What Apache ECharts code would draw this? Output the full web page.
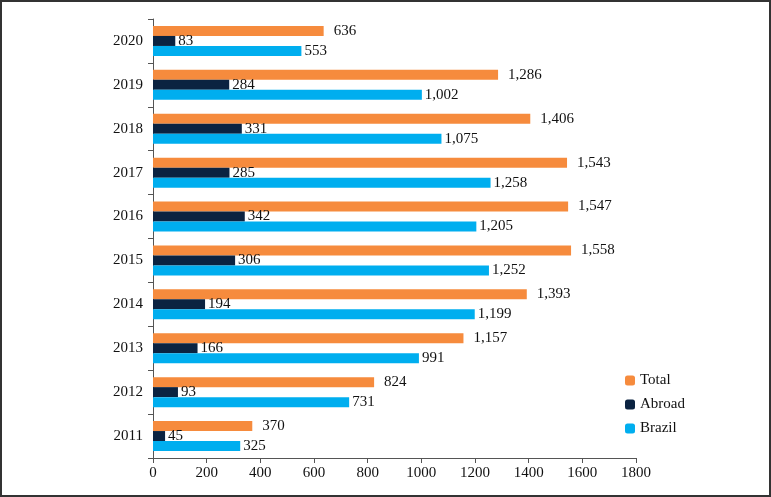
<!DOCTYPE html>
<html>
<head>
<meta charset="utf-8">
<script src="https://cdn.jsdelivr.net/npm/echarts@6/dist/echarts.min.js"></script>
<style>
html,body{margin:0;padding:0;background:#fff;}
#c{width:771px;height:497px;}
</style>
</head>
<body>
<div id="c"></div>
<script>
const years = ['2020','2019','2018','2017','2016','2015','2014','2013','2012','2011'];
const total = [636,1286,1406,1543,1547,1558,1393,1157,824,370];
const abroad = [83,284,331,285,342,306,194,166,93,45];
const brazil = [553,1002,1075,1258,1205,1252,1199,991,731,325];
const xTicks = [0,200,400,600,800,1000,1200,1400,1600,1800];

const font = 'Liberation Serif';
const fmt = p => p.value.toLocaleString('en-US');
const chart = echarts.init(document.getElementById('c'));
function mk(name, data, color, dist){
  return {
    name, type:'bar', data, barWidth:10, barGap:'0%',
    itemStyle:{color},
    label:{show:true, position:'right', distance:dist, formatter:fmt,
      fontFamily:font, fontSize:15, color:'#111'}
  };
}
chart.setOption({
  animation:false,
  textStyle:{fontFamily:font},
  graphic:[{type:'rect', shape:{x:1,y:1,width:769,height:495}, style:{fill:'none', stroke:'#333', lineWidth:2}}],
  grid:{left:153, right:135, top:19, bottom:39},
  legend:{
    orient:'vertical', left:620, top:368, itemWidth:10, itemHeight:10, itemGap:9,
    textStyle:{fontFamily:font, fontSize:15, color:'#111'},
    data:['Total','Abroad','Brazil']
  },
  xAxis:{
    type:'value', min:xTicks[0], max:xTicks[xTicks.length-1], interval:xTicks[1]-xTicks[0],
    axisLine:{show:true, lineStyle:{color:'#555'}},
    axisTick:{show:true, length:5, lineStyle:{color:'#555'}},
    splitLine:{show:false},
    axisLabel:{fontFamily:font, fontSize:15, color:'#111', margin:8, formatter:v=>String(v)}
  },
  yAxis:{
    type:'category', data:years, inverse:true,
    axisLine:{show:true, lineStyle:{color:'#555'}},
    axisTick:{show:true, length:5, lineStyle:{color:'#555'}},
    axisLabel:{fontFamily:font, fontSize:15, color:'#111', margin:10}
  },
  series:[
    mk('Total', total, '#F68B3D', 10),
    mk('Abroad', abroad, '#0B2341', 3),
    mk('Brazil', brazil, '#00AEEF', 3)
  ]
});
</script>
</body>
</html>
